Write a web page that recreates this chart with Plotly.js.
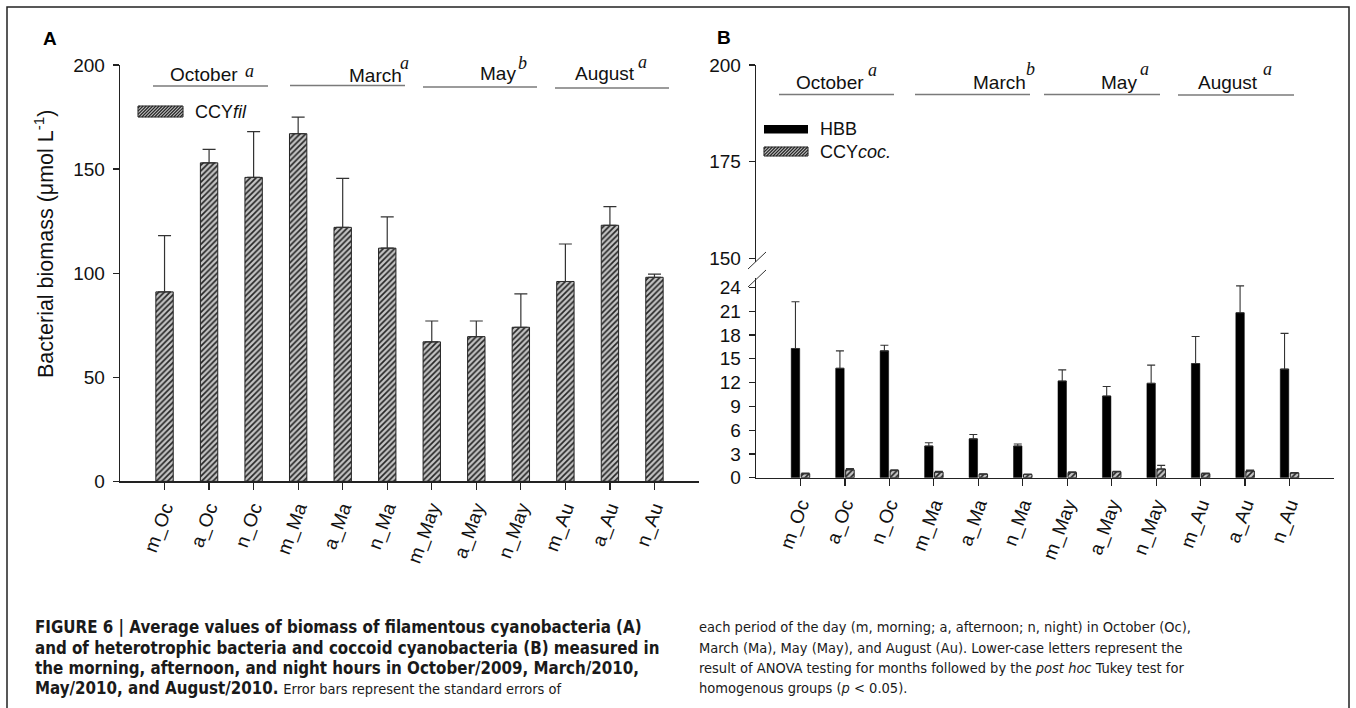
<!DOCTYPE html>
<html><head><meta charset="utf-8">
<script src="https://cdn.plot.ly/plotly-3.0.1.min.js"></script>
<style>html,body{margin:0;padding:0;background:#fff;}#chart{width:1356px;height:708px;}</style>
</head><body><div id="chart"></div>
<script>
// ---------------- data ----------------
const categories = ['m_Oc','a_Oc','n_Oc','m_Ma','a_Ma','n_Ma','m_May','a_May','n_May','m_Au','a_Au','n_Au'];
// Panel A: filamentous cyanobacteria biomass and top of error bar
const ccyFil       = [91, 153, 146, 167, 122, 112, 67, 69.5, 74, 96, 123, 98];
const ccyFilErrTop = [118, 159.5, 168, 175, 145.5, 127, 77, 77, 90, 114, 132, 99.5];
// Panel B: heterotrophic bacteria and coccoid cyanobacteria
const hbb          = [16.3, 13.8, 16.0, 4.0, 4.9, 4.0, 12.2, 10.3, 11.9, 14.4, 20.8, 13.7];
const hbbErrTop    = [22.2, 16.0, 16.7, 4.4, 5.45, 4.25, 13.6, 11.5, 14.2, 17.8, 24.2, 18.2];
const ccyCoc       = [0.5, 1.0, 0.9, 0.7, 0.45, 0.4, 0.65, 0.75, 1.1, 0.5, 0.85, 0.6];
const ccyCocErrTop = [0.6, 1.15, 1.0, 0.8, 0.5, 0.45, 0.75, 0.8, 1.55, 0.6, 0.95, 0.65];
// month headers and ANOVA letters
const monthNames   = ['October', 'March', 'May', 'August'];
const lettersA     = ['a', 'a', 'b', 'a'];
const lettersB     = ['a', 'b', 'a', 'a'];
const yTicksA      = [0, 50, 100, 150, 200];
const yTicksBLow   = [0, 3, 6, 9, 12, 15, 18, 21, 24];
const yTicksBHigh  = [150, 175, 200];
const seriesNames  = ['CCY<i>fil</i>', 'HBB', 'CCY<i>coc.</i>'];

// ---------------- helpers ----------------
const W = 1356, H = 708;
const px = x => x / W;
const py = y => 1 - y / H;
const plus = (v, top) => v.map((d, i) => +(top[i] - d).toFixed(3));
const zeros = v => v.map(() => 0);

const SANS = "'Liberation Sans', Arial, sans-serif";
const SERIF = "'Liberation Serif', 'Times New Roman', serif";
const CAP = "'DejaVu Sans Condensed', 'Liberation Sans Narrow', sans-serif";
const hatch = {shape: '/', fgcolor: '#262626', bgcolor: '#c4c4c4', size: 4, solidity: 0.42};

// ---------------- traces ----------------
const traces = [
  {type: 'bar', x: categories, y: ccyFil, xaxis: 'x', yaxis: 'y', width: 0.39, name: 'CCYfil',
   marker: {color: '#c4c4c4', pattern: hatch, line: {color: '#222', width: 1}},
   error_y: {type: 'data', symmetric: false, array: plus(ccyFil, ccyFilErrTop), arrayminus: zeros(ccyFil),
             color: '#333', thickness: 1.2, width: 6.5}},
  {type: 'bar', x: categories, y: hbb, xaxis: 'x2', yaxis: 'y2', name: 'HBB',
   marker: {color: '#000', line: {color: '#000', width: 0.5}},
   error_y: {type: 'data', symmetric: false, array: plus(hbb, hbbErrTop), arrayminus: zeros(hbb),
             color: '#333', thickness: 1.1, width: 4}},
  {type: 'bar', x: categories, y: ccyCoc, xaxis: 'x2', yaxis: 'y2', name: 'CCYcoc',
   marker: {color: '#c4c4c4', pattern: hatch, line: {color: '#222', width: 1}},
   error_y: {type: 'data', symmetric: false, array: plus(ccyCoc, ccyCocErrTop), arrayminus: zeros(ccyCoc),
             color: '#333', thickness: 1.1, width: 4}},
  // same HBB series on the upper (broken) segment of the B axis: its values lie below that range
  {type: 'bar', x: categories, y: hbb, xaxis: 'x2', yaxis: 'y3', name: 'HBB upper', showlegend: false,
   marker: {color: '#000'}, hoverinfo: 'skip'}
];

// ---------------- axes ----------------
const tickFont = {family: SANS, size: 19, color: '#111'};
const xBase = {type: 'category', range: [-1, 12], showline: true, linecolor: '#222', linewidth: 1.3,
  ticks: 'outside', ticklen: 7, tickcolor: '#222', tickwidth: 1.2, tickangle: -70, tickfont: tickFont,
  showgrid: false, zeroline: false, fixedrange: true};
const yBase = {showline: true, linecolor: '#222', linewidth: 1.3, ticks: 'outside', ticklen: 6,
  tickcolor: '#222', tickwidth: 1.2, tickfont: tickFont, showgrid: false, zeroline: false,
  fixedrange: true, ticklabelstandoff: 4};

// ---------------- decorations ----------------
const shapes = [];
const annotations = [];
function line(x0, y0, x1, y1, color, width) {
  shapes.push({type: 'line', xref: 'paper', yref: 'paper', x0: px(x0), y0: py(y0), x1: px(x1), y1: py(y1),
               line: {color: color, width: width}});
}
function text(x, y, t, opts) {
  annotations.push(Object.assign({xref: 'paper', yref: 'paper', x: px(x), y: py(y), text: t,
    showarrow: false, xanchor: 'left', yanchor: 'middle', font: {family: SANS, size: 19, color: '#111'}}, opts || {}));
}
function hatchSwatch(x0, y0, x1, y1) {
  shapes.push({type: 'rect', xref: 'paper', yref: 'paper', x0: px(x0), y0: py(y0), x1: px(x1), y1: py(y1),
               fillcolor: '#c4c4c4', line: {width: 0}});
  for (let u = x0 + y0 + 2; u < x1 + y1; u += 3.2) {
    const sx = Math.max(x0, u - y1), ex = Math.min(x1, u - y0);
    if (ex > sx) line(sx, u - sx, ex, u - ex, '#262626', 1.1);
  }
  shapes.push({type: 'rect', xref: 'paper', yref: 'paper', x0: px(x0), y0: py(y0), x1: px(x1), y1: py(y1),
               line: {color: '#222', width: 1}});
}

// figure border
shapes.push({type: 'rect', xref: 'paper', yref: 'paper', x0: px(7), y0: py(7), x1: px(1349), y1: py(720),
             line: {color: '#222', width: 1.5}});

// panel letters
text(50, 38, '<b>A</b>', {xanchor: 'center', font: {family: SANS, size: 19, color: '#000'}});
text(724, 37, '<b>B</b>', {xanchor: 'center', font: {family: SANS, size: 19, color: '#000'}});

// y title panel A
text(44, 244, 'Bacterial biomass (μmol L<sup>-1</sup>)', {xanchor: 'center', textangle: -90,
     font: {family: SANS, size: 21.5, color: '#111'}});

// month headers panel A
const hdrA = [ // [lineX0, lineX1, lineY, wordX, wordY, letterX, letterY]
  [153, 268, 86, 168, 75, 243, 71],
  [290, 405, 85.5, 347, 75.5, 398, 63],
  [423, 537, 87, 478, 73.5, 516, 63],
  [555, 669, 88, 573, 73.5, 636, 62]
];
hdrA.forEach((h, i) => {
  line(h[0], h[2], h[1], h[2], '#7a7a7a', 1.4);
  text(h[3], h[4], monthNames[i]);
  text(h[5], h[6], '<i>' + lettersA[i] + '</i>', {font: {family: SERIF, size: 18, color: '#111'}});
});
// month headers panel B
const hdrB = [
  [779, 894, 94.5, 794, 82.5, 866, 70],
  [915, 1030, 94.5, 971, 82.5, 1024, 69],
  [1044, 1160, 94.5, 1099, 82.5, 1138, 69],
  [1178, 1294, 95, 1196, 82.5, 1261, 69]
];
hdrB.forEach((h, i) => {
  line(h[0], h[2], h[1], h[2], '#7a7a7a', 1.4);
  text(h[3], h[4], monthNames[i]);
  text(h[5], h[6], '<i>' + lettersB[i] + '</i>', {font: {family: SERIF, size: 18, color: '#111'}});
});

// legends
hatchSwatch(138, 106, 183, 117);
text(193, 111.5, seriesNames[0], {font: {family: SANS, size: 18, color: '#111'}});
shapes.push({type: 'rect', xref: 'paper', yref: 'paper', x0: px(764), y0: py(125), x1: px(808), y1: py(133.5),
             fillcolor: '#000', line: {width: 0}});
text(818, 129, seriesNames[1], {font: {family: SANS, size: 18, color: '#111'}});
hatchSwatch(764, 147, 808, 156);
text(818, 151.5, seriesNames[2], {font: {family: SANS, size: 18, color: '#111'}});

// axis break marks
line(748, 269, 766, 252, '#333', 1);
line(748, 287, 766, 270, '#333', 1);

// caption
const capFont = {family: CAP, size: 16.8, color: '#1a1a1a'};
const reg = t => '<span style="font-size:14.5px">' + t + '</span>';
const capLeft = [
  '<b>FIGURE 6 | Average values of biomass of filamentous cyanobacteria (A)</b>',
  '<b>and of heterotrophic bacteria and coccoid cyanobacteria (B) measured in</b>',
  '<b>the morning, afternoon, and night hours in October/2009, March/2010,</b>',
  '<b>May/2010, and August/2010.</b> ' + reg('Error bars represent the standard errors of')
];
const capRight = [
  'each period of the day (m, morning; a, afternoon; n, night) in October (Oc),',
  'March (Ma), May (May), and August (Au). Lower-case letters represent the',
  'result of ANOVA testing for months followed by the <i>post hoc</i> Tukey test for',
  'homogenous groups (<i>p</i> &lt; 0.05).'
];
const capY = [627, 648, 668, 688];
capLeft.forEach((t, i) => text(33, capY[i], t, {font: capFont}));
capRight.forEach((t, i) => text(697, capY[i], t, {font: Object.assign({}, capFont, {size: 14.5})}));

const layout = {
  width: W, height: H, margin: {l: 0, r: 0, t: 0, b: 0, pad: 0},
  paper_bgcolor: '#fff', plot_bgcolor: 'rgba(0,0,0,0)', showlegend: false,
  barmode: 'group', bargap: 0.55, bargroupgap: 0.15,
  xaxis: Object.assign({}, xBase, {domain: [px(120), px(699)], anchor: 'y'}),
  yaxis: Object.assign({}, yBase, {domain: [py(481.3), py(65)], range: [0, 200], tickvals: yTicksA, anchor: 'x'}),
  xaxis2: Object.assign({}, xBase, {domain: [px(756), px(1334)], anchor: 'y2'}),
  yaxis2: Object.assign({}, yBase, {domain: [py(477.7), py(277.9)], range: [0, 25.2], tickvals: yTicksBLow, anchor: 'x2'}),
  yaxis3: Object.assign({}, yBase, {domain: [py(262.2), py(65)], range: [149, 200], tickvals: yTicksBHigh, anchor: 'x2'}),
  shapes: shapes, annotations: annotations
};

Plotly.newPlot('chart', traces, layout, {staticPlot: true, displayModeBar: false});
</script></body></html>
